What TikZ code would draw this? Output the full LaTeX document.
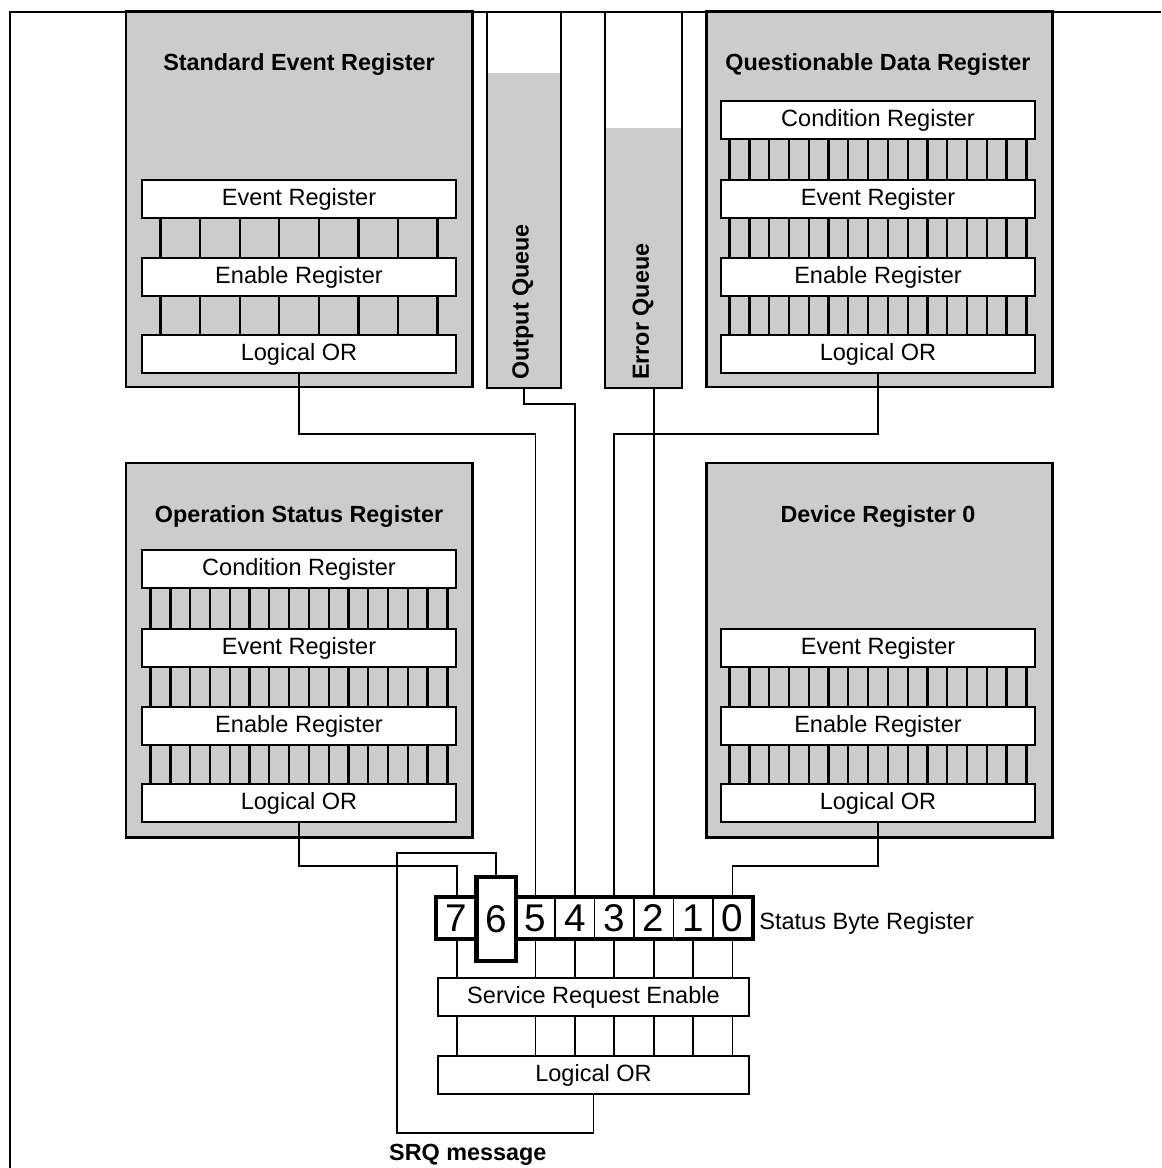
\documentclass[tikz,border=0pt]{standalone}
\usepackage{fontspec}
\setmainfont{Liberation Sans}
\usetikzlibrary{calc}
\pgfdeclarelayer{background}
\pgfdeclarelayer{foreground}
\pgfsetlayers{background,main,foreground}

\tikzset{
  txt/.style={font=\fontsize{13.4pt}{16pt}\selectfont},
  title/.style={font=\bfseries\fontsize{13.3pt}{16pt}\selectfont},
  reg/.style={draw, line width=1.5pt, fill=white, minimum width=6.28cm,
    minimum height=0.76cm, inner sep=0pt, txt},
  block/.style={draw, line width=1.7pt, fill=black!20},
  queue/.style={draw, line width=1.6pt, inner sep=0pt},
  bitline/.style={line width=1.3pt},
  wire/.style={line width=1.1pt},
  bitcell/.style={draw, line width=1pt, minimum width=0.788cm,
    minimum height=0.8cm, inner sep=0pt, font=\fontsize{22pt}{22pt}\selectfont},
}

% n lines running from one register down to the next one
\newcommand{\bitlines}[3]{%
  \foreach \i [evaluate=\i as \f using (\i-0.5)/#3] in {1,...,#3}{%
    \draw[bitline] ($(#1.south west)!\f!(#1.south east)$) --
      ($(#2.north west)!\f!(#2.north east)$);
  }%
}

\begin{document}
\begin{tikzpicture}[x=0.02cm, y=-0.02cm]
\useasboundingbox (0,0) rectangle (1161,1168);

\draw[line width=1.2pt] (1161,12) -- (10,12) -- (10,1168);% frame

\begin{pgfonlayer}{background}
  \draw[block] (126,12) rectangle (472,387);
  \draw[block] (706,12) rectangle (1052,387);
  \draw[block] (126,463) rectangle (472,837);
  \draw[block] (706,463) rectangle (1052,837);
  \fill[black!20] (487,73) rectangle (561,388);% queue contents
  \fill[black!20] (605,128) rectangle (682,388);
\end{pgfonlayer}

% queues
\node[queue, minimum width=1.48cm, minimum height=7.52cm] (outQ) at (524,200) {};
\node[queue, minimum width=1.54cm, minimum height=7.52cm] (errQ) at (643.5,200) {};
\node[title, rotate=90, anchor=west] (outQLabel) at (523,386) {Output Queue};
\node[title, rotate=90, anchor=west] (errQLabel) at (643,386) {Error Queue};

% Standard Event Register
\node[title] (serTitle) at (299,65) {Standard Event Register};
\node[reg] (serEvent) at (299,199) {Event Register};
\node[reg] (serEnable) at (299,277) {Enable Register};
\node[reg] (serOr) at (299,354) {Logical OR};
\bitlines{serEvent}{serEnable}{8}
\bitlines{serEnable}{serOr}{8}

% Questionable Data Register
\node[title] (qdrTitle) at (878,65) {Questionable Data Register};
\node[reg] (qdrCond) at (878,120) {Condition Register};
\node[reg] (qdrEvent) at (878,199) {Event Register};
\node[reg] (qdrEnable) at (878,277) {Enable Register};
\node[reg] (qdrOr) at (878,354) {Logical OR};
\bitlines{qdrCond}{qdrEvent}{16}
\bitlines{qdrEvent}{qdrEnable}{16}
\bitlines{qdrEnable}{qdrOr}{16}

% Operation Status Register
\node[title] (osrTitle) at (299,517) {Operation Status Register};
\node[reg] (osrCond) at (299,569) {Condition Register};
\node[reg] (osrEvent) at (299,648) {Event Register};
\node[reg] (osrEnable) at (299,726) {Enable Register};
\node[reg] (osrOr) at (299,803) {Logical OR};
\bitlines{osrCond}{osrEvent}{16}
\bitlines{osrEvent}{osrEnable}{16}
\bitlines{osrEnable}{osrOr}{16}

% Device Register 0
\node[title] (drTitle) at (878,517) {Device Register 0};
\node[reg] (drEvent) at (878,648) {Event Register};
\node[reg] (drEnable) at (878,726) {Enable Register};
\node[reg] (drOr) at (878,803) {Logical OR};
\bitlines{drEvent}{drEnable}{16}
\bitlines{drEnable}{drOr}{16}

% status byte
\foreach \b/\k in {7/0,5/2,4/3,3/4,2/5,1/6,0/7}
  \node[bitcell] (b\b) at ({456.7+39.4*\k},918) {\b};
\draw[line width=2.6pt] (b7.north west) rectangle (b0.south east);
\node[bitcell, line width=2.6pt, fill=white, minimum height=1.68cm] (b6) at (496.1,919) {6};
\node[txt, anchor=west] (sbrLabel) at ($(b0.east)+(0,5)$) {Status Byte Register};

\node[reg, minimum width=6.22cm] (sre) at (593.5,997) {Service Request Enable};
\node[reg, minimum width=6.22cm] (srqOr) at (593.5,1075) {Logical OR};
\foreach \b in {7,5,4,3,2,1,0}{
  \draw[wire] (b\b.south) -- (b\b.south |- sre.north);
  \draw[wire] (b\b.south |- sre.south) -- (b\b.south |- srqOr.north);
}

% summary lines into the status byte
\draw[wire] (serOr.south) -- ++(0,60) -| (b5.north);
\draw[wire] (outQ.south) -- ++(0,15) -| (b4.north);
\draw[wire] (errQ.south -| b2.north) -- (b2.north);
\draw[wire] (qdrOr.south) -- ++(0,60) -| (b3.north);
\draw[wire] (osrOr.south) -- ++(0,43) -| (b7.north);
\draw[wire] (drOr.south) -- ++(0,43) -| (b0.north);

% SRQ loop back to bit 6
\coordinate (srqLow) at (397,1133);
\coordinate (srqHigh) at (397,853);
\draw[wire] (srqOr.south) |- (srqLow) -- (srqHigh) -| (b6.north);
\node[title, anchor=west] (srqMsg) at (383,1155) {SRQ message};

\end{tikzpicture}
\end{document}
